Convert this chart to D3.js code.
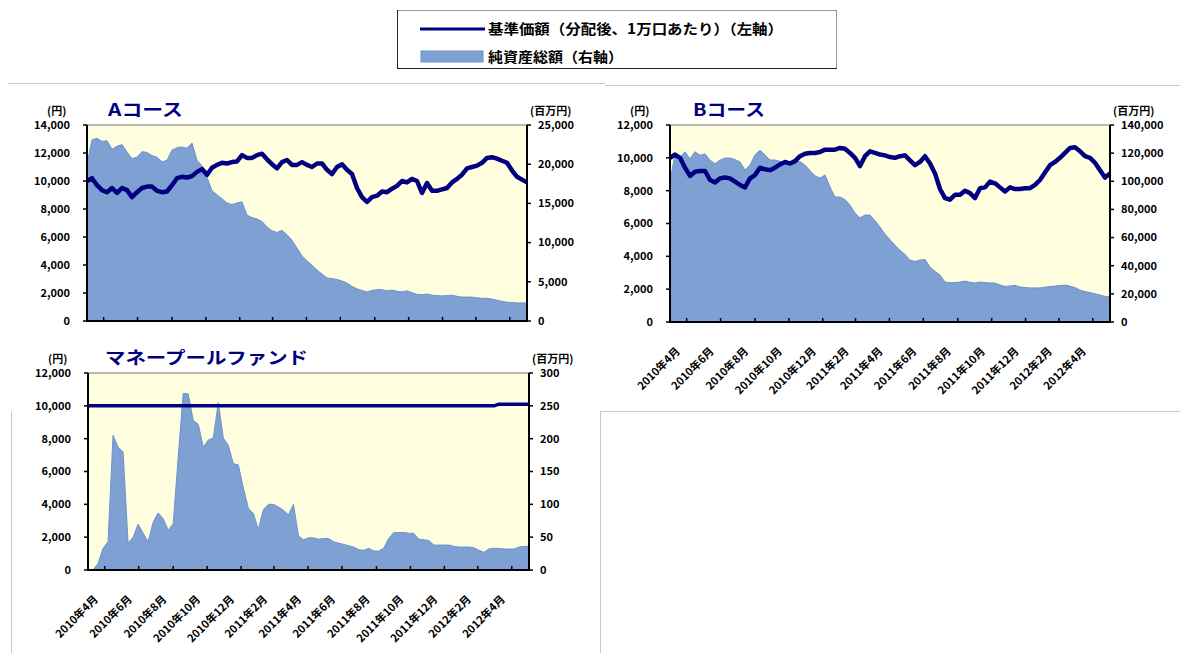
<!DOCTYPE html>
<html>
<head>
<meta charset="utf-8">
<script src="https://cdn.jsdelivr.net/npm/d3@7"></script>
<style>
  body { margin: 0; background: #fff; }
  svg { display: block; font-family: "Noto Sans CJK JP", "Noto Sans", sans-serif; }
</style>
</head>
<body>
<svg width="1180" height="653"></svg>
<script>
// 基準価額（左軸）と純資産総額（右軸）, 9日ごとの読み取り値
const aNav = [10000,10200,9700,9350,9200,9500,9150,9500,9350,8850,9200,9500,9600,9600,9300,9200,9250,9700,10200,10300,
  10250,10350,10650,10850,10450,10950,11150,11300,11250,11350,11400,11850,11650,11650,11850,11950,11550,11200,10900,11350,
  11500,11150,11150,11350,11150,11000,11250,11250,10800,10500,11000,11200,10800,10500,9500,8850,8500,8850,8950,9250,
  9200,9450,9650,10000,9900,10150,10000,9150,9850,9300,9300,9400,9500,9900,10150,10450,10900,11000,11100,11300,
  11650,11700,11600,11450,11300,10750,10300,10100,9900];
const aAssets = [20000,23100,23300,22900,23000,21900,22300,22500,21550,20700,20900,21600,21500,21100,20900,20300,20500,21800,22100,22200,
  22050,22700,20500,19800,18350,16600,16100,15600,15050,14850,15050,15200,13500,13200,13000,12700,12000,11500,11300,11550,
  11000,10300,9300,8300,7700,7100,6500,6000,5500,5400,5300,5100,4850,4400,4100,3900,3700,3900,4000,4000,
  3850,3950,3800,3700,3850,3600,3400,3350,3450,3300,3250,3200,3250,3300,3150,3050,3050,3050,2950,2900,
  2900,2800,2650,2500,2400,2350,2300,2300,2300];

const bNav = [10000,10200,10000,9400,8900,9150,9200,9200,8650,8500,8750,8800,8750,8550,8350,8200,8750,8950,9400,9300,
  9250,9400,9600,9750,9650,9800,10100,10250,10300,10300,10350,10500,10500,10500,10600,10550,10300,10000,9500,10100,
  10400,10300,10200,10150,10050,10000,10100,10150,9850,9550,9750,10100,9650,9050,8100,7550,7450,7750,7750,8000,
  7850,7550,8150,8200,8550,8450,8200,7950,8200,8100,8100,8150,8150,8350,8650,9100,9550,9750,10000,10300,
  10600,10650,10400,10100,10000,9700,9250,8800,9050];
const bAssets = [100000,118700,117000,121000,116000,121000,118500,119500,115000,112500,115000,116500,116500,115500,113700,108000,111600,118700,122200,118700,
  115100,115100,114200,113000,111600,114000,114000,111500,107500,104000,102300,104500,96000,88800,88800,87000,83000,77500,74000,76000,
  76000,72000,67500,62500,58500,54500,51000,48000,44000,43000,44000,44500,39000,36000,33400,28400,28000,28000,28400,29100,
  28200,27700,28400,28000,27700,27700,26300,25300,25600,26000,24900,24500,24200,24200,24200,24700,25200,25500,25900,26200,
  25500,24500,22700,21600,20900,20000,19200,18200,17800];

const mNav = [10000,10000,10000,10000,10000,10000,10000,10000,10000,10000,10000,10000,10000,10000,10000,10000,10000,10000,10000,10000,
  10000,10000,10000,10000,10000,10000,10000,10000,10000,10000,10000,10000,10000,10000,10000,10000,10000,10000,10000,10000,
  10000,10000,10000,10000,10000,10000,10000,10000,10000,10000,10000,10000,10000,10000,10000,10000,10000,10000,10000,10000,
  10000,10000,10000,10000,10000,10000,10000,10000,10000,10000,10000,10000,10000,10000,10000,10000,10000,10000,10000,10000,
  10000,10000,10100,10100,10100,10100,10100,10100,10100];
const mAssets = [0,0,10,33,43,205,187,180,41,50,70,56,43,73,87,78,61,70,172,269,
  268,228,222,187,198,201,255,201,190,162,160,125,94,86,62,92,100,100,96,91,
  84,100,52,46,49,49,47,48,48,43,41,39,37,35,31,30,33,29,29,33,
  48,57,57,57,56,56,47,46,45,38,38,38,38,36,35,35,35,34,30,27,
  32,33,33,32,32,32,35,36,36];

const tickLabels = ["2010年4月","2010年6月","2010年8月","2010年10月","2010年12月","2011年2月","2011年4月",
  "2011年6月","2011年8月","2011年10月","2011年12月","2012年2月","2012年4月"];
const legendNames = ["基準価額（分配後、1万口あたり）（左軸）", "純資産総額（右軸）"];

const startDate = new Date(2010, 3, 1);
const endDate = new Date(2012, 5, 1);
const dates = d3.range(aNav.length).map(i => d3.timeDay.offset(startDate, i * 9));

const svg = d3.select("svg");
const navColor = "#000080";
const areaColor = "#7EA0D2";
const fmt = d3.format(",");

// 罫線 (シートのセル枠)
const grid = svg.append("g").attr("stroke", "#c8c8c8").attr("stroke-width", 1);
grid.append("line").attr("x1", 8).attr("x2", 605).attr("y1", 83.5).attr("y2", 83.5);
grid.append("line").attr("x1", 605).attr("x2", 1180).attr("y1", 85.5).attr("y2", 85.5);
grid.append("line").attr("x1", 600.5).attr("x2", 1180).attr("y1", 411.5).attr("y2", 411.5);
grid.append("line").attr("x1", 600.5).attr("x2", 600.5).attr("y1", 411.5).attr("y2", 653);
grid.append("line").attr("x1", 11.5).attr("x2", 11.5).attr("y1", 412).attr("y2", 653);

// 凡例
const lg = svg.append("g");
lg.append("rect").attr("x", 397.5).attr("y", 10.5).attr("width", 439).attr("height", 58)
  .attr("fill", "#fff").attr("stroke", "#333").attr("stroke-dasharray", "1,1");
lg.append("line").attr("x1", 397.5).attr("x2", 397.5).attr("y1", 10).attr("y2", 69).attr("stroke", "#222");
lg.append("line").attr("x1", 397).attr("x2", 837).attr("y1", 68.5).attr("y2", 68.5).attr("stroke", "#222");
lg.append("line").attr("x1", 420).attr("x2", 485).attr("y1", 29).attr("y2", 29)
  .attr("stroke", navColor).attr("stroke-width", 3);
lg.append("rect").attr("x", 421).attr("y", 51).attr("width", 62).attr("height", 11)
  .attr("fill", areaColor).attr("stroke", "#6a93cf").attr("stroke-width", 1);
lg.selectAll("text.lgt").data(legendNames).join("text").attr("class", "lgt")
  .attr("x", 488).attr("y", (d, i) => i === 0 ? 29 : 57).attr("dy", "0.35em")
  .attr("font-size", 14).attr("font-weight", "bold")
  .attr("textLength", (d, i) => i === 0 ? 295 : 135).attr("lengthAdjust", "spacingAndGlyphs")
  .text(d => d);

function drawPanel(p) {
  const g = svg.append("g");
  const x = d3.scaleTime().domain([startDate, endDate]).range([p.left, p.right]);
  const yL = d3.scaleLinear().domain([0, p.maxL]).range([p.bottom, p.top]);
  const yR = d3.scaleLinear().domain([0, p.maxR]).range([p.bottom, p.top]);

  g.append("rect").attr("x", p.left).attr("y", p.top)
    .attr("width", p.right - p.left).attr("height", p.bottom - p.top)
    .attr("fill", "#FFFFE0").attr("stroke", "#777").attr("stroke-width", 1);

  const area = d3.area().x((d, i) => x(dates[i])).y0(p.bottom).y1(d => yR(d));
  g.append("path").datum(p.assets).attr("d", area)
    .attr("fill", areaColor).attr("stroke", "#6a93cf").attr("stroke-width", 1);

  const line = d3.line().x((d, i) => x(dates[i])).y(d => yL(d));
  g.append("path").datum(p.nav).attr("d", line)
    .attr("fill", "none").attr("stroke", navColor).attr("stroke-width", p.lw)
    .attr("stroke-linejoin", "round");

  // 軸線
  const ax = g.append("g").attr("stroke", "#000").attr("stroke-width", 2);
  ax.append("line").attr("x1", p.left).attr("x2", p.left).attr("y1", p.top).attr("y2", p.bottom + 1);
  ax.append("line").attr("x1", p.right).attr("x2", p.right).attr("y1", p.top).attr("y2", p.bottom + 1);
  ax.append("line").attr("x1", p.left - 1).attr("x2", p.right + 1).attr("y1", p.bottom).attr("y2", p.bottom);

  const lt = yL.ticks(p.maxL / 2000);
  const rt = d3.range(0, p.maxR + 1, p.stepR);
  ax.selectAll("line.tl").data(lt).join("line").attr("class", "tl")
    .attr("x1", p.left - 4).attr("x2", p.left).attr("y1", d => yL(d)).attr("y2", d => yL(d)).attr("stroke-width", 1.5);
  ax.selectAll("line.tr").data(rt).join("line").attr("class", "tr")
    .attr("x1", p.right).attr("x2", p.right + 4).attr("y1", d => yR(d)).attr("y2", d => yR(d)).attr("stroke-width", 1.5);
  const xt = d3.timeMonth.every(2).range(startDate, endDate);
  ax.selectAll("line.tx").data(xt).join("line").attr("class", "tx")
    .attr("x1", d => x(d)).attr("x2", d => x(d)).attr("y1", p.bottom).attr("y2", p.bottom - 4).attr("stroke-width", 1.5);

  const txt = g.append("g").attr("font-size", 11).attr("font-weight", "bold").attr("fill", "#000");
  txt.selectAll("text.l").data(lt).join("text").attr("class", "l")
    .attr("x", p.left - 17).attr("y", d => yL(d)).attr("dy", "0.35em").attr("text-anchor", "end")
    .text(d => fmt(d));
  txt.selectAll("text.r").data(rt).join("text").attr("class", "r")
    .attr("x", p.right + 11).attr("y", d => yR(d)).attr("dy", "0.35em")
    .text(d => fmt(d));
  txt.append("text").attr("x", p.left - 40).attr("y", p.top - 14).attr("dy", "0.35em").text("(円)");
  txt.append("text").attr("x", p.right + 3).attr("y", p.top - 14).attr("dy", "0.35em").text("(百万円)");

  if (p.labels) {
    txt.selectAll("text.x").data(xt).join("text").attr("class", "x")
      .attr("text-anchor", "end")
      .attr("transform", d => `translate(${x(d) - 6},${p.bottom + 30}) rotate(-45)`)
      .text((d, i) => tickLabels[i]);
  }

  g.append("text").attr("x", p.titleX).attr("y", p.top - 15).attr("dy", "0.35em")
    .attr("font-size", 17).attr("font-weight", "bold").attr("fill", navColor)
    .attr("textLength", p.titleW).attr("lengthAdjust", "spacingAndGlyphs")
    .text(p.title);
}

drawPanel({ left: 87, right: 527, top: 125, bottom: 321, maxL: 14000, maxR: 25000, stepR: 5000,
  nav: aNav, assets: aAssets, title: "Aコース", titleX: 108, titleW: 75, labels: false, lw: 4.5 });
drawPanel({ left: 670, right: 1110, top: 125, bottom: 322, maxL: 12000, maxR: 140000, stepR: 20000,
  nav: bNav, assets: bAssets, title: "Bコース", titleX: 693, titleW: 72, labels: true, lw: 4.5 });
drawPanel({ left: 88, right: 529, top: 373, bottom: 570, maxL: 12000, maxR: 300, stepR: 50,
  nav: mNav, assets: mAssets, title: "マネープールファンド", titleX: 105, titleW: 203, labels: true, lw: 3.5 });
</script>
</body>
</html>
